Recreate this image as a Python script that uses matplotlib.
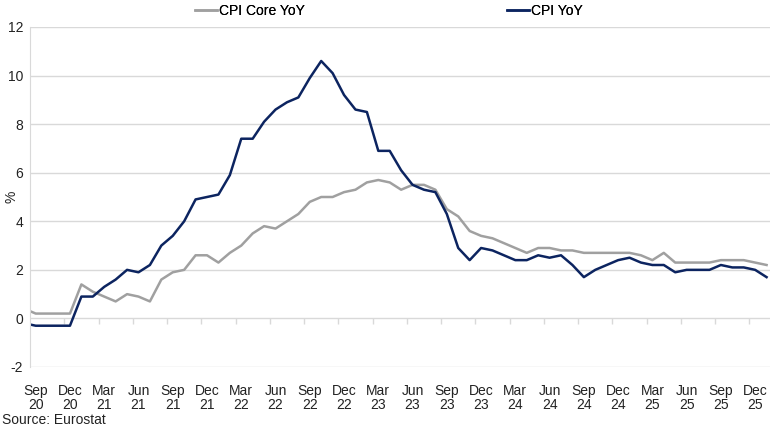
import numpy as np
import matplotlib.pyplot as plt

# monthly values, Aug 2020 .. Jan 2026 (Aug 2020 only shows as the clipped start)
cpi_yoy = [-0.2,
           -0.3, -0.3, -0.3, -0.3,
           0.9, 0.9, 1.3, 1.6, 2.0, 1.9, 2.2, 3.0, 3.4, 4.0, 4.9, 5.0,
           5.1, 5.9, 7.4, 7.4, 8.1, 8.6, 8.9, 9.1, 9.9, 10.6, 10.1, 9.2,
           8.6, 8.5, 6.9, 6.9, 6.1, 5.5, 5.3, 5.2, 4.3, 2.9, 2.4, 2.9,
           2.8, 2.6, 2.4, 2.4, 2.6, 2.5, 2.6, 2.2, 1.7, 2.0, 2.2, 2.4,
           2.5, 2.3, 2.2, 2.2, 1.9, 2.0, 2.0, 2.0, 2.2, 2.1, 2.1, 2.0,
           1.7]
core_yoy = [0.4,
            0.2, 0.2, 0.2, 0.2,
            1.4, 1.1, 0.9, 0.7, 1.0, 0.9, 0.7, 1.6, 1.9, 2.0, 2.6, 2.6,
            2.3, 2.7, 3.0, 3.5, 3.8, 3.7, 4.0, 4.3, 4.8, 5.0, 5.0, 5.2,
            5.3, 5.6, 5.7, 5.6, 5.3, 5.5, 5.5, 5.3, 4.5, 4.2, 3.6, 3.4,
            3.3, 3.1, 2.9, 2.7, 2.9, 2.9, 2.8, 2.8, 2.7, 2.7, 2.7, 2.7,
            2.7, 2.6, 2.4, 2.7, 2.3, 2.3, 2.3, 2.3, 2.4, 2.4, 2.4, 2.3,
            2.2]
tick_labels = ['Sep\n20', 'Dec\n20', 'Mar\n21', 'Jun\n21', 'Sep\n21', 'Dec\n21',
               'Mar\n22', 'Jun\n22', 'Sep\n22', 'Dec\n22', 'Mar\n23', 'Jun\n23',
               'Sep\n23', 'Dec\n23', 'Mar\n24', 'Jun\n24', 'Sep\n24', 'Dec\n24',
               'Mar\n25', 'Jun\n25', 'Sep\n25', 'Dec\n25']

navy = '#0C2460'
grey = '#A0A0A0'
grid_col = '#D9D9D9'

plt.rcParams['font.family'] = ['Liberation Sans', 'DejaVu Sans']
plt.rcParams['font.size'] = 10
plt.rcParams['axes.unicode_minus'] = False

x = np.arange(len(cpi_yoy)) - 1  # Sep 2020 = 0

fig = plt.figure(figsize=(7.7, 4.28), dpi=100)
ax = fig.add_axes([30 / 770, 61 / 428, 740 / 770, 340 / 428])

l_core, = ax.plot(x, core_yoy, color=grey, lw=1.8, label='CPI Core YoY')
l_cpi, = ax.plot(x, cpi_yoy, color=navy, lw=1.8, label='CPI YoY')

ax.set_xlim(-0.5, 64.3)
ax.set_ylim(-2, 12)
ax.set_yticks(np.arange(-2, 13, 2))
ax.yaxis.grid(True, color=grid_col, lw=1)
ax.set_axisbelow(True)
ax.tick_params(axis='y', length=0, pad=5, colors='#222222')

ax.set_xticks(np.arange(0, 64, 3))
ax.set_xticklabels(tick_labels, linespacing=1.05)
ax.tick_params(axis='x', length=0, pad=12, colors='#222222')

for s in ['top', 'right', 'bottom']:
    ax.spines[s].set_visible(False)
ax.spines['left'].set_color(grid_col)

# small tick marks hanging below the zero line, between the quarters
zero_ax = ax.secondary_xaxis(2 / 14)
zero_ax.set_xticks(np.arange(2.5, 64, 3))
zero_ax.set_xticklabels([])
zero_ax.tick_params(axis='x', direction='out', length=4, width=1, color=grid_col)
zero_ax.spines['bottom'].set_visible(False)

ax.set_ylabel('%', color='#222222')
ax.yaxis.set_label_coords(-0.016, 0.5)

# legend entries sit above the plot, far apart
for line, xpos in [(l_core, 195 / 770), (l_cpi, 507 / 770)]:
    leg = fig.legend(handles=[line], loc='center left', bbox_to_anchor=(xpos, 1 - 11 / 428),
                     frameon=False, handlelength=1.6, handletextpad=0.1,
                     borderpad=0, borderaxespad=0)
    fig.add_artist(leg)

fig.text(2 / 770, 1 - 420 / 428, 'Source: Eurostat', va='center', ha='left', color='#222222')

plt.savefig('out.png', dpi=100)
